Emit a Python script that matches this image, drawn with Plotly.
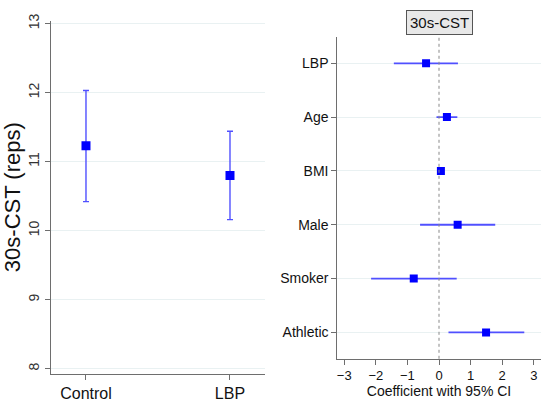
import plotly.graph_objects as go

# left panel: mean 30s-CST with 95% CI by group
groups = ['Control', 'LBP']
group_mean = [11.23, 10.80]
group_lo = [10.42, 10.16]
group_hi = [12.03, 11.44]

# right panel: regression coefficients with 95% CI
terms = ['LBP', 'Age', 'BMI', 'Male', 'Smoker', 'Athletic']
coef = [-0.41, 0.25, 0.06, 0.59, -0.80, 1.49]
coef_lo = [-1.43, -0.08, 0.01, -0.60, -2.15, 0.30]
coef_hi = [0.60, 0.58, 0.11, 1.78, 0.56, 2.70]

y_ticks = [8, 9, 10, 11, 12, 13]
x_ticks = [-3, -2, -1, 0, 1, 2, 3]

FONT = 'Liberation Sans, Arial, sans-serif'
BLUE = '#0000ff'
CI_BLUE = '#5050ff'
GRID = '#e9f1f2'
AXIS = '#6e6e6e'

fig = go.Figure()

fig.add_trace(go.Scatter(
    x=list(range(len(groups))), y=group_mean,
    mode='markers',
    marker=dict(symbol='square', size=9, color=BLUE),
    error_y=dict(type='data', symmetric=False,
                 array=[h - m for h, m in zip(group_hi, group_mean)],
                 arrayminus=[m - l for m, l in zip(group_mean, group_lo)],
                 color=CI_BLUE, thickness=1.4, width=3),
    xaxis='x', yaxis='y', showlegend=False,
))

fig.add_trace(go.Scatter(
    x=coef, y=list(range(1, len(terms) + 1)),
    mode='markers',
    marker=dict(symbol='square', size=8, color=BLUE),
    error_x=dict(type='data', symmetric=False,
                 array=[h - c for h, c in zip(coef_hi, coef)],
                 arrayminus=[c - l for c, l in zip(coef, coef_lo)],
                 color=CI_BLUE, thickness=1.8, width=0),
    xaxis='x2', yaxis='y2', showlegend=False,
))

axis_common = dict(showline=True, linecolor=AXIS, linewidth=1, ticks='outside',
                   tickcolor=AXIS, ticklen=5, zeroline=False, mirror=False)

fig.update_layout(
    width=550, height=404,
    margin=dict(l=0, r=0, t=0, b=0),
    paper_bgcolor='white', plot_bgcolor='white',
    font=dict(family=FONT, color='#111111'),
    xaxis=dict(domain=[0.0927, 0.4818], range=[-0.243, 1.243],
               tickvals=[0, 1], ticktext=groups, showgrid=False,
               tickfont=dict(size=16, color='#111111'), anchor='y', **axis_common),
    yaxis=dict(domain=[0.0767, 0.9653], range=[7.93, 13.04],
               tickvals=y_ticks, tickangle=-90, showgrid=True, gridcolor=GRID,
               tickfont=dict(size=14, color='#333333'), anchor='x',
               title=dict(text='30s-CST (reps)', font=dict(size=22, color='#111111'), standoff=8),
               **axis_common),
    xaxis2=dict(domain=[0.6133, 0.9831], range=[-3.22, 3.22],
                tickvals=x_ticks, ticktext=['\u22123', '\u22122', '\u22121', '0', '1', '2', '3'],
                showgrid=False, tickfont=dict(size=13, color='#111111'), anchor='y2',
                title=dict(text='Coefficient with 95% CI', font=dict(size=14, color='#111111'), standoff=3),
                **axis_common),
    yaxis2=dict(domain=[0.1139, 0.9233], range=[6.49, 0.52],
                tickvals=list(range(1, len(terms) + 1)), ticktext=terms,
                showgrid=True, gridcolor=GRID,
                tickfont=dict(size=14, color='#111111'), anchor='x2', **axis_common),
)

# dotted reference line at zero
fig.add_shape(type='line', xref='x2', yref='y2 domain', x0=0, x1=0, y0=0, y1=1,
              line=dict(color='#888888', width=1, dash='dot'))

# panel title box
fig.add_annotation(x=0.799, y=0.960, xref='paper', yref='paper',
                   xanchor='center', yanchor='middle',
                   text='30s-CST', showarrow=False,
                   font=dict(size=15, color='#111111'),
                   bgcolor='#e8e8e8', bordercolor='#555555', borderwidth=1, borderpad=3)

# drop the default page margin so the figure sits at the window's corner
fig.write_html('out.html', config={'displayModeBar': False},
               post_script="document.body.style.margin='0px';")
